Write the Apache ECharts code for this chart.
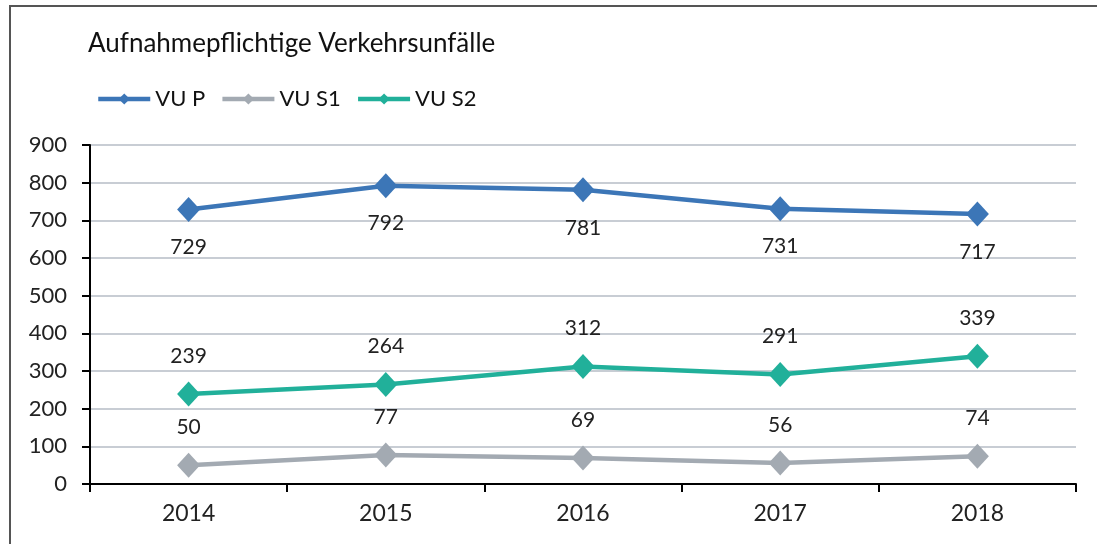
<!DOCTYPE html>
<html>
<head>
<meta charset="utf-8">
<script src="https://cdn.jsdelivr.net/npm/echarts@6/dist/echarts.min.js"></script>
<style>
  html, body { margin: 0; padding: 0; background: #fff; }
  #frame { position: absolute; left: 9px; top: 5px; width: 1100px; height: 560px;
    border-top: 2px solid #555; border-left: 2px solid #555; }
  #chart { position: absolute; left: 0; top: 0; width: 1097px; height: 544px; }
</style>
</head>
<body>
<div id="frame"></div>
<div id="chart"></div>
<script>
const years = ['2014', '2015', '2016', '2017', '2018']
const vuP = [729, 792, 781, 731, 717]
const vuS1 = [50, 77, 69, 56, 74]
const vuS2 = [239, 264, 312, 291, 339]

const font = 'Lato, "Noto Sans", sans-serif'

function line(name, data, color, labelPos) {
  return {
    name,
    type: 'line',
    data,
    symbol: 'diamond',
    symbolSize: [23, 25],
    itemStyle: { color },
    lineStyle: { color, width: 4.5 },
    label: {
      show: true,
      position: labelPos,
      distance: 15,
      color: '#222',
      fontSize: 21,
      fontFamily: font
    },
    animation: false
  }
}

const chart = echarts.init(document.getElementById('chart'), null, { renderer: 'canvas' })
chart.setOption({
  title: {
    text: 'Aufnahmepflichtige Verkehrsunfälle',
    left: 83,
    top: 26,
    textStyle: { fontSize: 26, fontWeight: 'normal', color: '#111', fontFamily: font }
  },
  legend: {
    left: 91,
    top: 83,
    itemWidth: 52,
    itemHeight: 14,
    itemGap: 15,
    lineStyle: { width: 4.5 },
    textStyle: { fontSize: 22, color: '#111', fontFamily: font },
    data: ['VU P', 'VU S1', 'VU S2']
  },
  grid: { left: 90, right: 21, top: 145, bottom: 60, containLabel: false },
  xAxis: {
    type: 'category',
    data: years,
    boundaryGap: true,
    axisLine: { lineStyle: { color: '#000', width: 2 } },
    axisTick: { show: true, length: 8, lineStyle: { color: '#000', width: 2 } },
    axisLabel: { fontSize: 23, color: '#222', margin: 18, fontFamily: font }
  },
  yAxis: {
    type: 'value',
    min: 0,
    max: 900,
    interval: 100,
    axisLine: { show: true, lineStyle: { color: '#000', width: 2 } },
    axisTick: { show: true, length: 8, lineStyle: { color: '#000', width: 2 } },
    axisLabel: { fontSize: 22, color: '#222', margin: 23, fontFamily: font },
    splitLine: { lineStyle: { color: '#b6bcc6', width: 1.5 } }
  },
  series: [
    line('VU P', vuP, '#3c76b7', 'bottom'),
    line('VU S1', vuS1, '#a3aab2', 'top'),
    line('VU S2', vuS2, '#21b09a', 'top')
  ]
})
</script>
</body>
</html>
